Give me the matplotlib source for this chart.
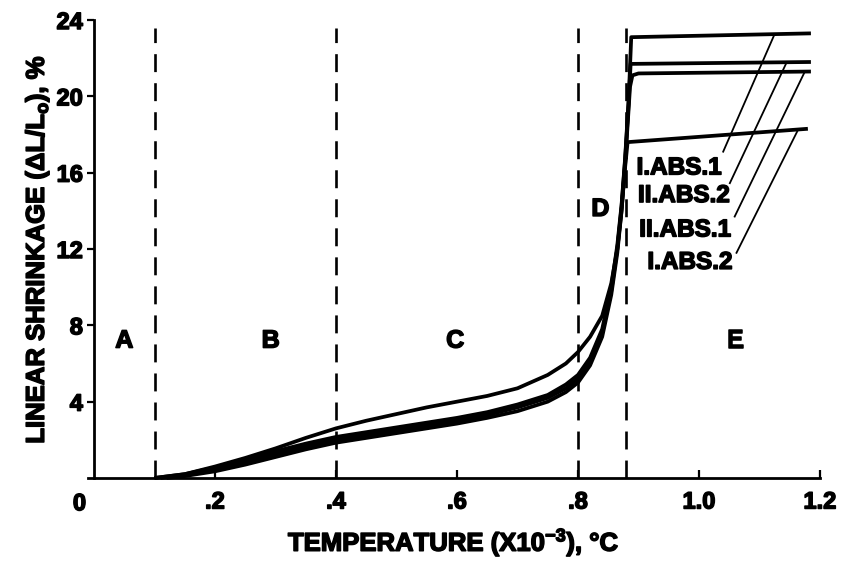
import matplotlib

matplotlib.use("Agg")
import matplotlib.patheffects as pe
import matplotlib.pyplot as plt
import numpy as np

FONT = ["Liberation Sans Narrow", "Liberation Sans", "DejaVu Sans"]
plt.rcParams["font.family"] = FONT
plt.rcParams["font.weight"] = "bold"

# shrinkage curves, temperature in units of 1000 degC
temp_iabs1 = [0.10, 0.15, 0.20, 0.25, 0.30, 0.35, 0.40, 0.45, 0.50, 0.55, 0.60,
              0.65, 0.70, 0.75, 0.78, 0.80, 0.82, 0.84, 0.855, 0.865, 0.872,
              0.878, 0.884, 0.888, 1.185]
shrink_iabs1 = [0.0, 0.2, 0.55, 0.95, 1.4, 1.8, 2.15, 2.4, 2.65, 2.9, 3.15,
                3.45, 3.85, 4.35, 4.9, 5.4, 6.3, 7.8, 10.0, 12.2, 14.3,
                16.8, 20.0, 23.1, 23.3]

temp_iiabs2 = [0.11, 0.15, 0.20, 0.25, 0.30, 0.35, 0.40, 0.45, 0.50, 0.55, 0.60,
               0.65, 0.70, 0.75, 0.78, 0.80, 0.82, 0.84, 0.855, 0.865, 0.872,
               0.878, 0.884, 0.887, 1.185]
shrink_iiabs2 = [0.0, 0.15, 0.45, 0.85, 1.25, 1.65, 2.0, 2.25, 2.5, 2.75, 3.0,
                 3.3, 3.7, 4.2, 4.7, 5.2, 6.1, 7.6, 9.8, 12.0, 14.2,
                 16.7, 19.8, 21.7, 21.8]

temp_iiabs1 = [0.12, 0.15, 0.20, 0.25, 0.30, 0.35, 0.40, 0.45, 0.50, 0.55, 0.60,
               0.65, 0.70, 0.75, 0.78, 0.80, 0.82, 0.84, 0.855, 0.865, 0.872,
               0.878, 0.883, 0.886, 0.890, 0.900, 1.185]
shrink_iiabs1 = [0.0, 0.1, 0.35, 0.7, 1.1, 1.5, 1.85, 2.1, 2.35, 2.6, 2.85,
                 3.15, 3.5, 4.0, 4.5, 5.0, 5.9, 7.4, 9.6, 11.8, 14.0,
                 16.5, 19.0, 20.5, 21.1, 21.2, 21.3]

temp_iabs2 = [0.10, 0.15, 0.20, 0.25, 0.30, 0.35, 0.40, 0.45, 0.50, 0.55, 0.60,
              0.65, 0.70, 0.75, 0.78, 0.80, 0.82, 0.84, 0.855, 0.865, 0.872,
              0.877, 0.882, 1.18]
shrink_iabs2 = [0.0, 0.2, 0.6, 1.05, 1.55, 2.1, 2.6, 3.0, 3.35, 3.7, 4.0,
                4.3, 4.7, 5.4, 6.0, 6.6, 7.4, 8.5, 10.2, 12.0, 14.0,
                16.0, 17.6, 18.3]

# stage boundaries and stage letters
boundaries = [0.1, 0.4, 0.8, 0.88]
stage_names = ["A", "B", "C", "D", "E"]
stage_x = [0.05, 0.292, 0.597, 0.837, 1.06]
stage_y = [7.2, 7.2, 7.2, 14.1, 7.2]

# curve labels with their leader lines (label end -> point on curve)
curve_labels = ["I.ABS.1", "II.ABS.2", "II.ABS.1", "I.ABS.2"]
label_x = [0.967, 0.975, 0.977, 0.985]
label_y = [16.25, 14.8, 13.0, 11.3]
leader_start = [(1.040, 17.1), (1.051, 15.45), (1.059, 13.7), (1.062, 11.8)]
leader_end_x = [1.125, 1.145, 1.175, 1.164]

x_ticks = [0.2, 0.4, 0.6, 0.8, 1.0, 1.2]
x_ticklabels = [".2", ".4", ".6", ".8", "1.0", "1.2"]
y_ticks = [4, 8, 12, 16, 20, 24]

curves = [
    (temp_iabs1, shrink_iabs1),
    (temp_iiabs2, shrink_iiabs2),
    (temp_iiabs1, shrink_iiabs1),
    (temp_iabs2, shrink_iabs2),
]

# heavier lettering
HEAVY = [pe.withStroke(linewidth=1.1, foreground="black")]

fig = plt.figure(figsize=(8.41, 5.62), dpi=100)
ax = fig.add_axes([0.1046, 0.1495, 0.8704, 0.8149])

for xs, ys in curves:
    ax.plot(xs, ys, color="black", lw=2.7, solid_joinstyle="round",
            solid_capstyle="butt", clip_on=False, zorder=3)

for xb in boundaries:
    ax.plot([xb, xb], [0, 23.6], color="black", lw=1.9,
            dashes=(6.8, 4.2), zorder=2)

for name, sx, sy in zip(stage_names, stage_x, stage_y):
    ax.text(sx, sy, name, ha="center", va="center", fontsize=18,
            fontweight="bold", path_effects=HEAVY)

for (xs, ys), name, lx, ly, start, ex in zip(curves, curve_labels, label_x,
                                              label_y, leader_start, leader_end_x):
    ax.text(lx, ly, name, ha="center", va="center", fontsize=17.5,
            fontweight="bold", zorder=4, path_effects=HEAVY)
    ey = np.interp(ex, xs, ys)
    ax.plot([start[0], ex], [start[1], ey], color="black", lw=1.3, zorder=3)

ax.set_xlim(-0.01, 1.2)
ax.set_ylim(0, 24)
ax.spines["left"].set_position(("data", 0))
ax.spines["top"].set_visible(False)
ax.spines["right"].set_visible(False)
for side in ("left", "bottom"):
    ax.spines[side].set_linewidth(2.0)

ax.set_xticks(x_ticks)
ax.set_xticklabels(x_ticklabels)
ax.set_yticks(y_ticks)
ax.tick_params(axis="x", direction="in", length=6, width=1.6, pad=9,
               labelsize=17)
ax.tick_params(axis="y", direction="out", length=5, width=1.6, pad=3,
               labelsize=17)
for lbl in ax.get_xticklabels() + ax.get_yticklabels():
    lbl.set_path_effects(HEAVY)
ax.text(-0.024, -1.35, "0", ha="center", va="center", fontsize=17,
        fontweight="bold", clip_on=False, path_effects=HEAVY)

ax.set_xlabel(r"TEMPERATURE (X10$\mathregular{^{-3}}$), °C", fontsize=18.5,
              fontweight="bold", labelpad=9, path_effects=HEAVY)
ax.set_ylabel(r"LINEAR SHRINKAGE ($\mathregular{\Delta}$L/L$\mathregular{_o}$), %",
              fontsize=18.5, fontweight="bold", labelpad=4, path_effects=HEAVY)

fig.savefig("out.png", dpi=100)
